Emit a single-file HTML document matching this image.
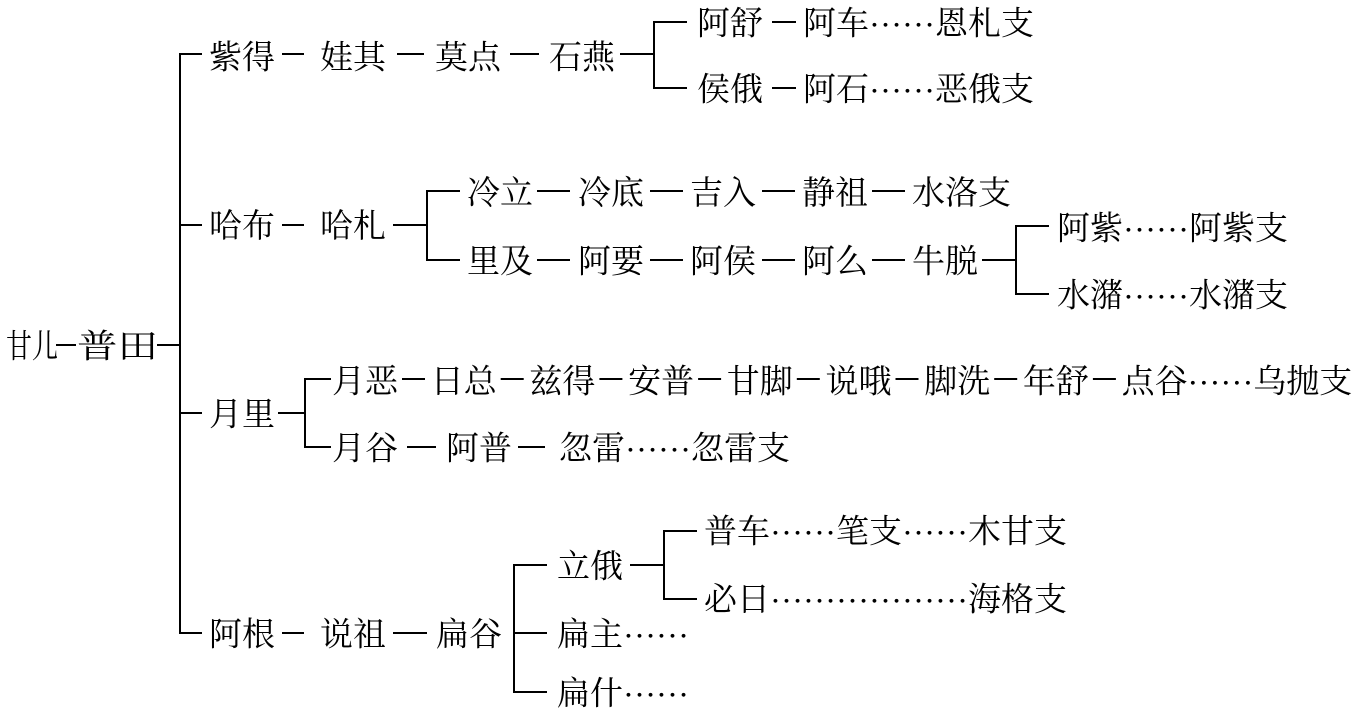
<!DOCTYPE html>
<html>
<head>
<meta charset="utf-8">
<style>
  html,body{margin:0;padding:0;background:#fff;}
  svg{display:block;}
  text{font-family:"Liberation Serif","Noto Serif CJK SC",serif;font-size:33px;fill:#000;}
  text.d{font-family:"Liberation Serif",serif;}
  path,line{stroke:#000;stroke-width:2;fill:none;}
</style>
</head>
<body>
<svg width="1356" height="713" viewBox="0 0 1356 713" xmlns="http://www.w3.org/2000/svg">
  <!-- Root -->
  <text x="6" y="357.5" textLength="52" lengthAdjust="spacingAndGlyphs">甘儿</text>
  <line x1="56" y1="345" x2="76" y2="345"/>
  <text x="77" y="357.5" textLength="81" lengthAdjust="spacingAndGlyphs">普田</text>
  <line x1="157" y1="345" x2="180" y2="345"/>

  <!-- Main vertical -->
  <line x1="180" y1="53" x2="180" y2="634"/>
  <line x1="180" y1="54" x2="202" y2="54"/>
  <line x1="180" y1="225" x2="202" y2="225"/>
  <line x1="180" y1="413" x2="202" y2="413"/>
  <line x1="180" y1="633" x2="202" y2="633"/>

  <!-- 紫得 row -->
  <text x="209" y="68.5">紫得</text>
  <line x1="282" y1="54" x2="304" y2="54"/>
  <text x="320" y="68.5">娃其</text>
  <line x1="397" y1="54" x2="424" y2="54"/>
  <text x="435" y="68.5">莫点</text>
  <line x1="510" y1="54" x2="539" y2="54"/>
  <text x="549" y="68.5">石燕</text>
  <line x1="620" y1="54" x2="654" y2="54"/>
  <path d="M687 22 H654 V88 H687"/>

  <text x="697" y="34.5">阿舒</text>
  <line x1="772" y1="22" x2="796" y2="22"/>
  <text x="803" y="34.5">阿车</text>
  <text class="d" x="869" y="26.5">……</text>
  <text x="935" y="34.5">恩札支</text>

  <text x="697" y="100.5">侯俄</text>
  <line x1="772" y1="88" x2="796" y2="88"/>
  <text x="803" y="100.5">阿石</text>
  <text class="d" x="869" y="92.5">……</text>
  <text x="935" y="100.5">恶俄支</text>

  <!-- 哈布 row -->
  <text x="209" y="237">哈布</text>
  <line x1="282" y1="225" x2="304" y2="225"/>
  <text x="320" y="237">哈札</text>
  <line x1="393" y1="225" x2="427" y2="225"/>
  <path d="M460 191 H427 V260 H460"/>

  <text x="467" y="204">冷立</text>
  <line x1="537" y1="191" x2="570" y2="191"/>
  <text x="578" y="204">冷底</text>
  <line x1="650" y1="191" x2="683" y2="191"/>
  <text x="690" y="204">吉入</text>
  <line x1="762" y1="191" x2="795" y2="191"/>
  <text x="802" y="204">静祖</text>
  <line x1="872" y1="191" x2="905" y2="191"/>
  <text x="912" y="204">水洛支</text>

  <text x="467" y="272.5">里及</text>
  <line x1="537" y1="260" x2="570" y2="260"/>
  <text x="578" y="272.5">阿要</text>
  <line x1="650" y1="260" x2="683" y2="260"/>
  <text x="690" y="272.5">阿侯</text>
  <line x1="762" y1="260" x2="795" y2="260"/>
  <text x="802" y="272.5">阿么</text>
  <line x1="872" y1="260" x2="905" y2="260"/>
  <text x="912" y="272.5">牛脱</text>
  <line x1="982" y1="260" x2="1016" y2="260"/>
  <path d="M1049 226 H1016 V294 H1049"/>

  <text x="1057" y="239.5">阿紫</text>
  <text class="d" x="1123" y="231.5">……</text>
  <text x="1189" y="239.5">阿紫支</text>

  <text x="1057" y="306.5">水潴</text>
  <text class="d" x="1123" y="298.5">……</text>
  <text x="1189" y="306.5">水潴支</text>

  <!-- 月里 row -->
  <text x="209" y="425.5">月里</text>
  <line x1="278" y1="413" x2="305" y2="413"/>
  <path d="M331 379 H305 V447 H331"/>

  <text x="332" y="392.5">月恶</text>
  <line x1="402" y1="379" x2="425" y2="379"/>
  <text x="430.7" y="392.5">日总</text>
  <line x1="500.7" y1="379" x2="523.7" y2="379"/>
  <text x="529.4" y="392.5">兹得</text>
  <line x1="599.4" y1="379" x2="622.4" y2="379"/>
  <text x="628.1" y="392.5">安普</text>
  <line x1="698.1" y1="379" x2="721.1" y2="379"/>
  <text x="726.8" y="392.5">甘脚</text>
  <line x1="796.8" y1="379" x2="819.8" y2="379"/>
  <text x="825.5" y="392.5">说哦</text>
  <line x1="895.5" y1="379" x2="918.5" y2="379"/>
  <text x="924.2" y="392.5">脚洗</text>
  <line x1="994.2" y1="379" x2="1017.2" y2="379"/>
  <text x="1022.9" y="392.5">年舒</text>
  <line x1="1092.9" y1="379" x2="1115.9" y2="379"/>
  <text x="1121.6" y="392.5">点谷</text>
  <text class="d" x="1187.4" y="384.5">……</text>
  <text x="1253.2" y="392.5">乌抛支</text>

  <text x="332" y="459.5">月谷</text>
  <line x1="407" y1="447" x2="436" y2="447"/>
  <text x="446" y="459.5">阿普</text>
  <line x1="518" y1="447" x2="545" y2="447"/>
  <text x="559" y="459.5">忽雷</text>
  <text class="d" x="625" y="451.5">……</text>
  <text x="691" y="459.5">忽雷支</text>

  <!-- 阿根 row -->
  <text x="209" y="645.5">阿根</text>
  <line x1="282" y1="633" x2="304" y2="633"/>
  <text x="320" y="645.5">说祖</text>
  <line x1="393" y1="633" x2="427" y2="633"/>
  <text x="436" y="645.5">扁谷</text>
  <path d="M547 565 H514 V692 H547"/>
  <line x1="514" y1="633" x2="547" y2="633"/>

  <text x="557" y="577.5">立俄</text>
  <line x1="630" y1="565" x2="664" y2="565"/>
  <path d="M697 531 H664 V599 H697"/>

  <text x="704" y="542.5">普车</text>
  <text class="d" x="770" y="534.5">……</text>
  <text x="836" y="542.5">笔支</text>
  <text class="d" x="902" y="534.5">……</text>
  <text x="968" y="542.5">木甘支</text>

  <text x="704" y="610.5">必日</text>
  <text class="d" x="770" y="602.5">………………</text>
  <text x="968" y="610.5">海格支</text>

  <text x="557" y="645.5">扁主</text>
  <text class="d" x="623" y="637.5">……</text>

  <text x="557" y="704.5">扁什</text>
  <text class="d" x="623" y="696.5">……</text>
</svg>
</body>
</html>
